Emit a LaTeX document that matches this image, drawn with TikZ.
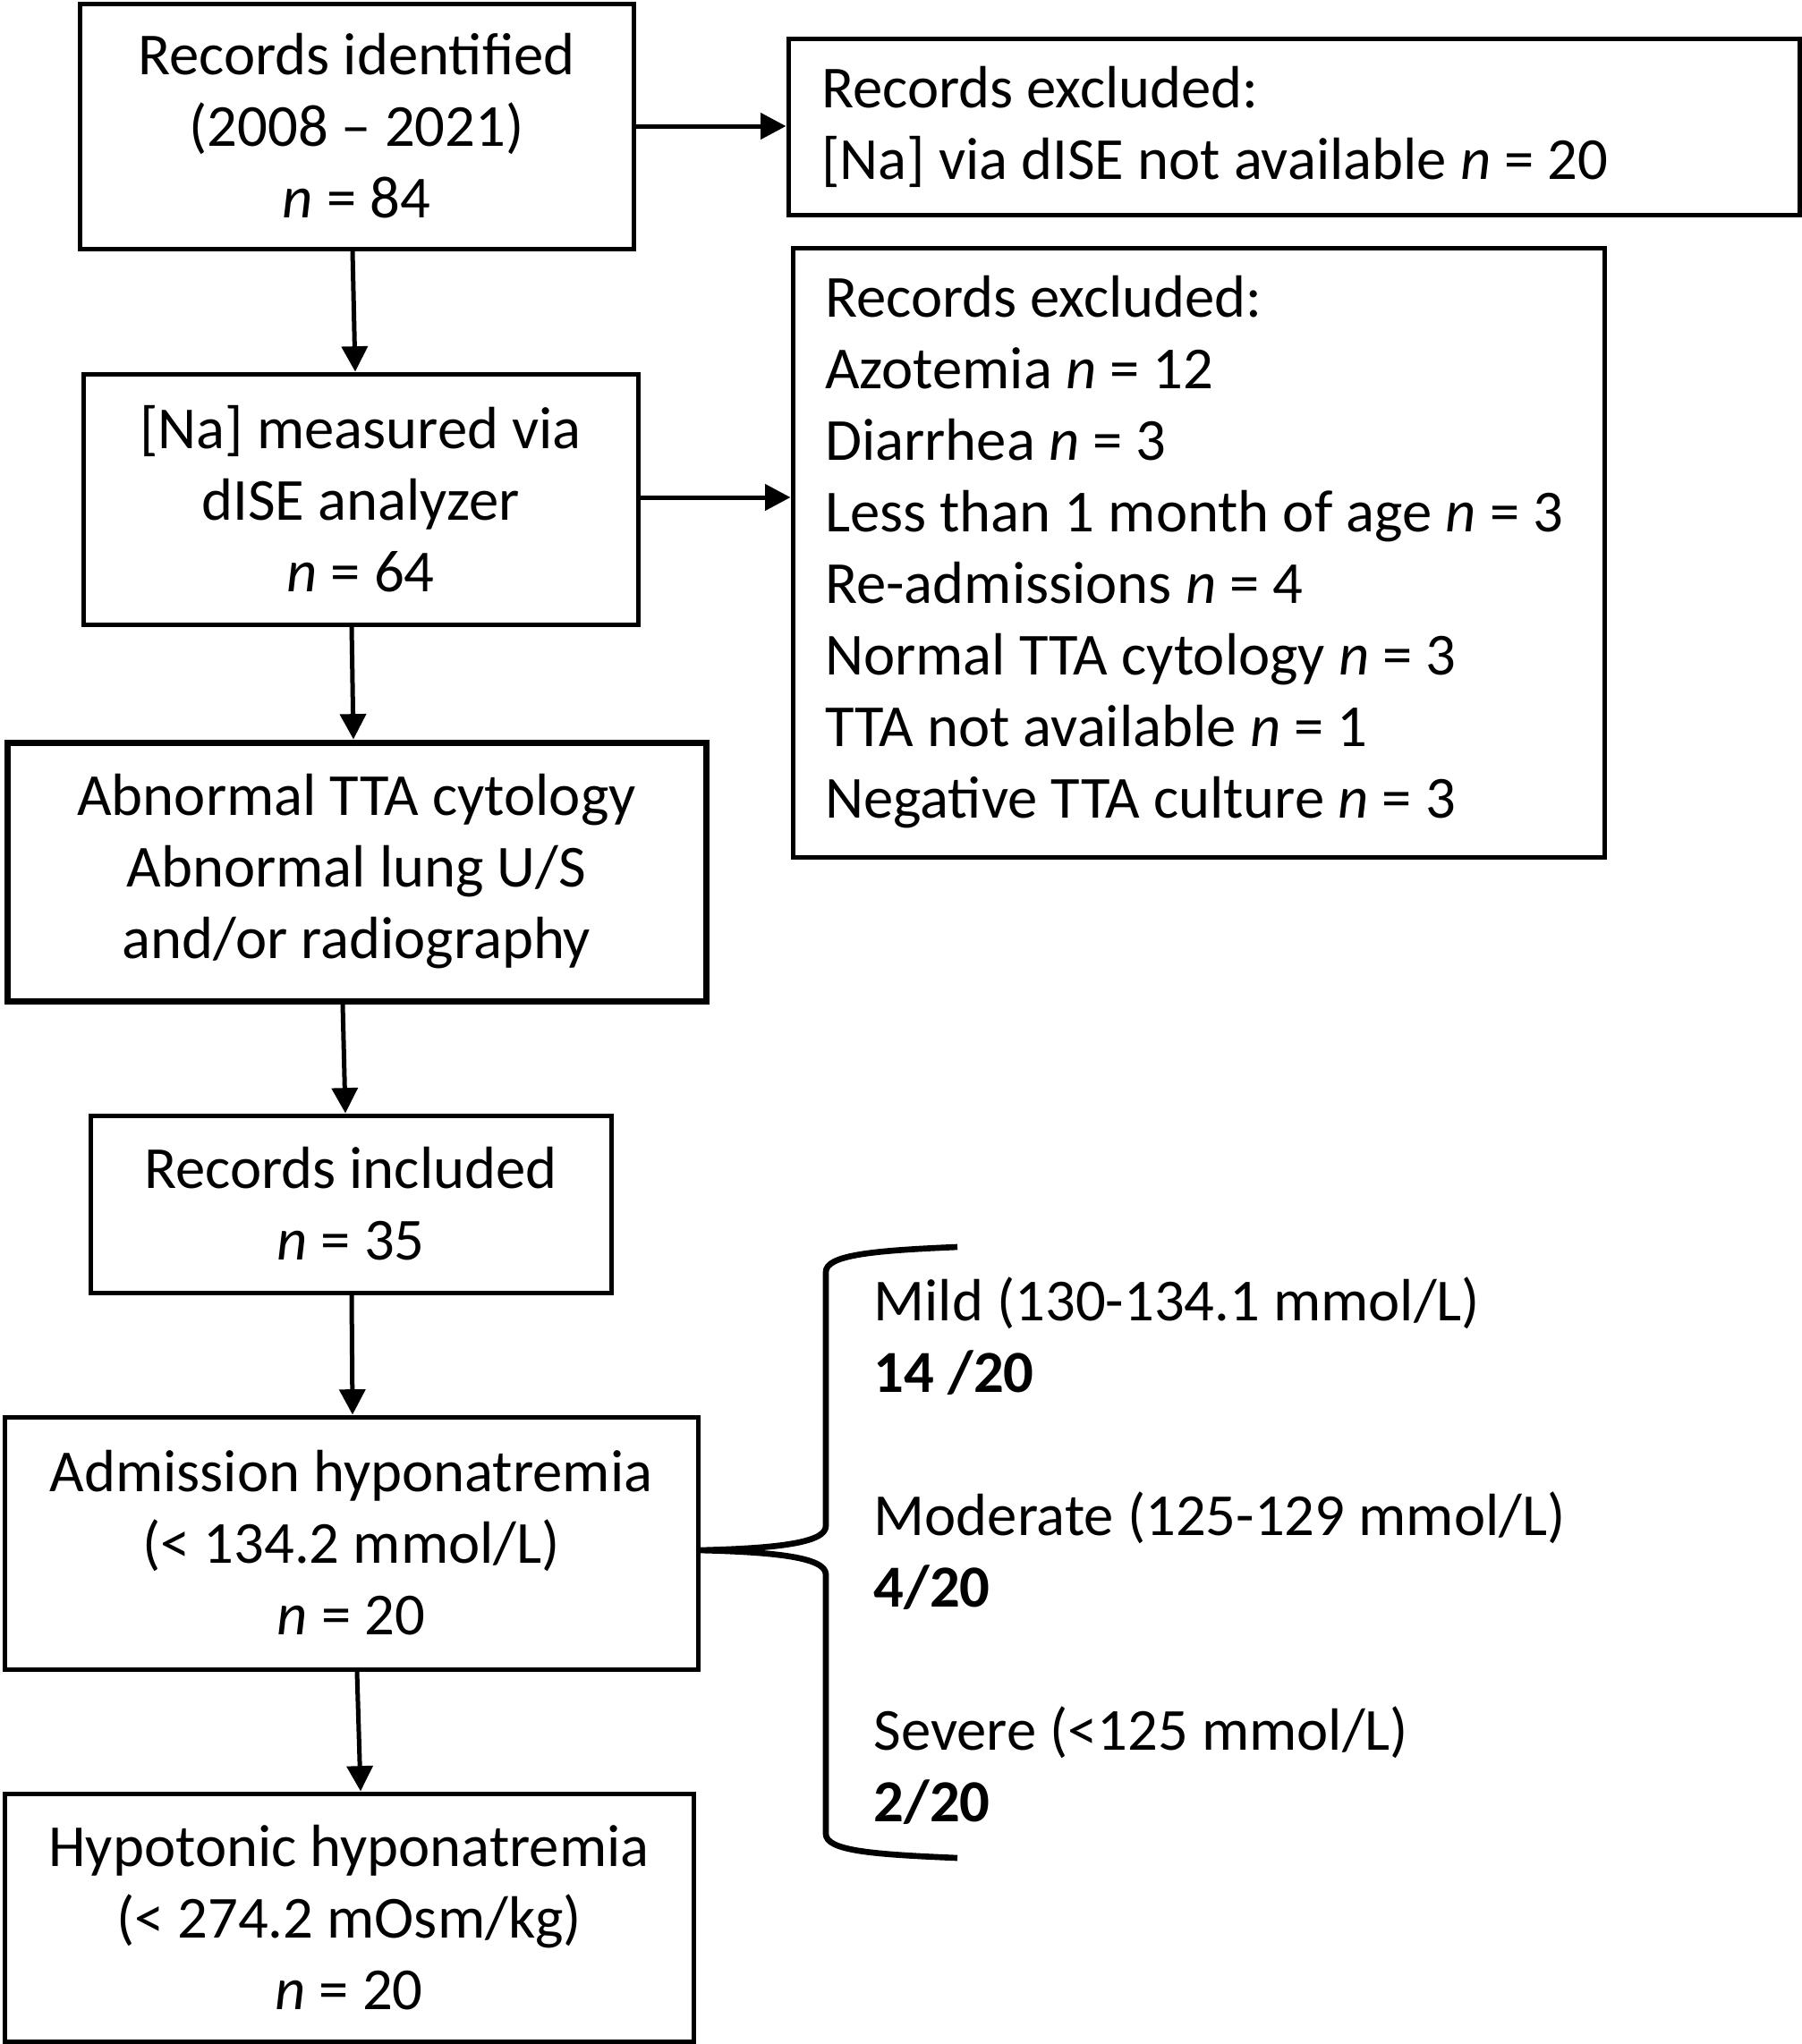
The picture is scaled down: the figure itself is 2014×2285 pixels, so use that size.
\documentclass[tikz,border=0pt]{standalone}
\usepackage{fontspec}
\setmainfont{Carlito}
\usetikzlibrary{arrows.meta}
\newcommand\fz{\fontsize{20}{24}\selectfont}
\begin{document}
\begin{tikzpicture}[x=0.3pt,y=-0.3pt,
  box/.style={draw, line width=1.5pt, inner sep=0pt, align=center, font=\fz},
  thickbox/.style={box, line width=2.1pt},
  txt/.style={inner sep=0pt, align=left, font=\fz},
  arr/.style={line width=1.5pt, -{Triangle[length=8.5pt,width=8.6pt]}},
  bracestyle/.style={line width=2pt, line join=round}]
\useasboundingbox (0,0) rectangle (2014,2285);
% main column
\node[box, minimum width=185.7pt, minimum height=82.2pt] (b1) at (398.5,141)
  {Records identified\\(2008 – 2021)\\\textit{n} = 84};
\node[box, minimum width=186pt, minimum height=84pt] (b2) at (403,558)
  {[Na] measured via\\dISE analyzer\\\textit{n} = 64};
\node[thickbox, minimum width=234.3pt, minimum height=86.7pt] (b3) at (398.5,974.5)
  {Abnormal TTA cytology\\Abnormal lung U/S\\and/or radiography};
\node[box, minimum width=174.6pt, minimum height=59.4pt] (b4) at (392,1346)
  {Records included\\\textit{n} = 35};
\node[box, minimum width=232.5pt, minimum height=84.6pt] (b5) at (392.5,1725)
  {Admission hyponatremia\\(< 134.2 mmol/L)\\\textit{n} = 20};
\node[box, minimum width=231pt, minimum height=83.1pt] (b6) at (390,2143.5)
  {Hypotonic hyponatremia\\(< 274.2 mOsm/kg)\\\textit{n} = 20};
% exclusion boxes
\node[box, minimum width=339pt, minimum height=59.1pt] (e1) at (1446,141.5) {};
\node[txt, anchor=west] (e1t) at ([xshift=11.7pt]e1.west)
  {Records excluded:\\{}[Na] via dISE not available \textit{n} = 20};
\node[box, minimum width=272.1pt, minimum height=204.3pt] (e2) at (1339.5,617.5) {};
\node[txt, anchor=west] (e2t) at ([xshift=11.4pt]e2.west)
  {Records excluded:\\Azotemia \textit{n} = 12\\Diarrhea \textit{n} = 3\\Less than 1 month of age \textit{n} = 3\\Re-admissions \textit{n} = 4\\Normal TTA cytology \textit{n} = 3\\TTA not available \textit{n} = 1\\Negative TTA culture \textit{n} = 3};
% severity text
\node[txt, anchor=west] (sev) at (976,1734)
  {Mild (130-134.1 mmol/L)\\\textbf{14 /20}\\[24pt]Moderate (125-129 mmol/L)\\\textbf{4/20}\\[24pt]Severe (<125 mmol/L)\\\textbf{2/20}};
% arrows
\draw[arr] (b1.south -| 394,0) -- (b2.north -| 397,0);
\draw[arr] (b2.south -| 393,0) -- (b3.north -| 395,0);
\draw[arr] (b3.south -| 383,0) -- (b4.north -| 386,0);
\draw[arr] (b4.south -| 393,0) -- (b5.north -| 394,0);
\draw[arr] (b5.south -| 399,0) -- (b6.north -| 403,0);
\draw[arr] (b1.east) -- (b1.east -| e1.west);
\draw[arr] (b2.east |- 0,556) -- (e2.west |- 0,556);
% brace
\coordinate (btop) at (1070,1394);
\coordinate (bbot) at (1070,2077);
\coordinate (tip) at (b5.east |- 0,1733);
\draw[bracestyle] (btop) .. controls (975,1398) and (923,1403) .. (923,1422)
  -- (923,1706) .. controls (923,1726) and (860,1731) .. (tip)
  .. controls (860,1735) and (923,1740) .. (923,1760)
  -- (923,2050) .. controls (923,2069) and (975,2073) .. (bbot);
\end{tikzpicture}
\end{document}
